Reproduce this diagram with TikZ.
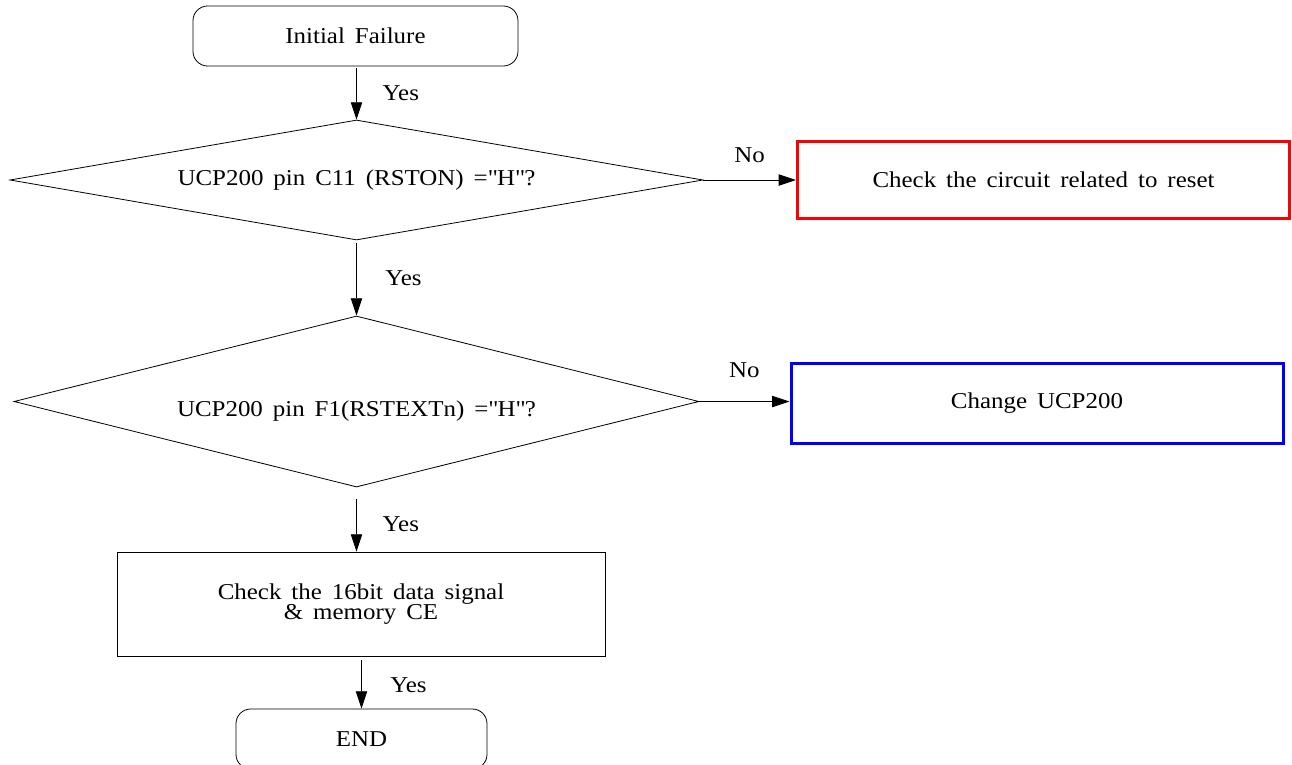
\documentclass[tikz,border=0pt]{standalone}
\usepackage{fontspec}
\setmainfont{Liberation Serif}[WordSpace=1.6, FakeStretch=1.1]
\usetikzlibrary{shapes.geometric,arrows.meta}
\tikzset{
  flow/.style={draw, line width=0.6pt, -{Triangle[length=13pt,width=8.5pt]}},
  terminal/.style={draw, line width=0.6pt, rounded corners=11pt, minimum width=#1, minimum height=45pt},
  decision/.style={draw, line width=0.6pt, diamond, aspect=5.5, inner sep=0pt},
  stepbox/.style={draw, minimum width=366pt, minimum height=78pt, line width=0.6pt, align=center},
  resultbox/.style={draw=#1, line width=2.25pt, minimum width=369pt, minimum height=58pt}
}
\begin{document}
\begin{tikzpicture}[x=0.75pt, y=-0.75pt, font=\fontsize{17}{15.5}\selectfont]
\useasboundingbox (0,0) rectangle (1292,764);
% boxes
\node[terminal=243.75pt] (init) at (355.5,36) {Initial Failure};
\node[decision, minimum width=519.75pt, minimum height=90pt] (rston) at (356.5,180) {UCP200 pin C11 (RSTON) =\textquotedbl H\textquotedbl?};
\node[resultbox=red] (reset) at (1043.5,180) {Check the circuit related to reset};
\node[decision, minimum width=513.75pt, minimum height=128.25pt, text height=26pt, text depth=4pt] (rstext) at (356.5,401.5) {UCP200 pin F1(RSTEXTn) =\textquotedbl H\textquotedbl?};
\node[resultbox=blue, minimum height=60pt] (change) at (1037,403) {Change UCP200};
\node[stepbox] (check) at (361,604) {Check the 16bit data signal\\\& memory CE};
\begin{scope}
\clip (0,0) rectangle (1292,764);
\node[terminal=188.25pt] (end) at (361.5,739) {END};
\end{scope}
% connectors
\draw[flow, shorten <=1.5pt] (rston.north |- init.south) -- (rston.north) node[midway, right=16pt] {Yes};
\draw[flow, shorten <=2pt] (rston.south) -- (rstext.north) node[midway, right=18pt] {Yes};
\draw[flow, shorten <=9pt] (rstext.south) -- (check.north -| rstext.south) node[pos=0.58, right=16pt] {Yes};
\draw[flow, shorten <=3pt] (check.south -| end.north) -- (end.north) node[pos=0.55, right=18pt] {Yes};
\draw[flow] (rston.east) -- (rston.east -| reset.west) node[midway, above=9pt] {No};
\draw[flow] (rstext.east) -- (rstext.east -| change.west) node[midway, above=14pt] {No};
\end{tikzpicture}
\end{document}
